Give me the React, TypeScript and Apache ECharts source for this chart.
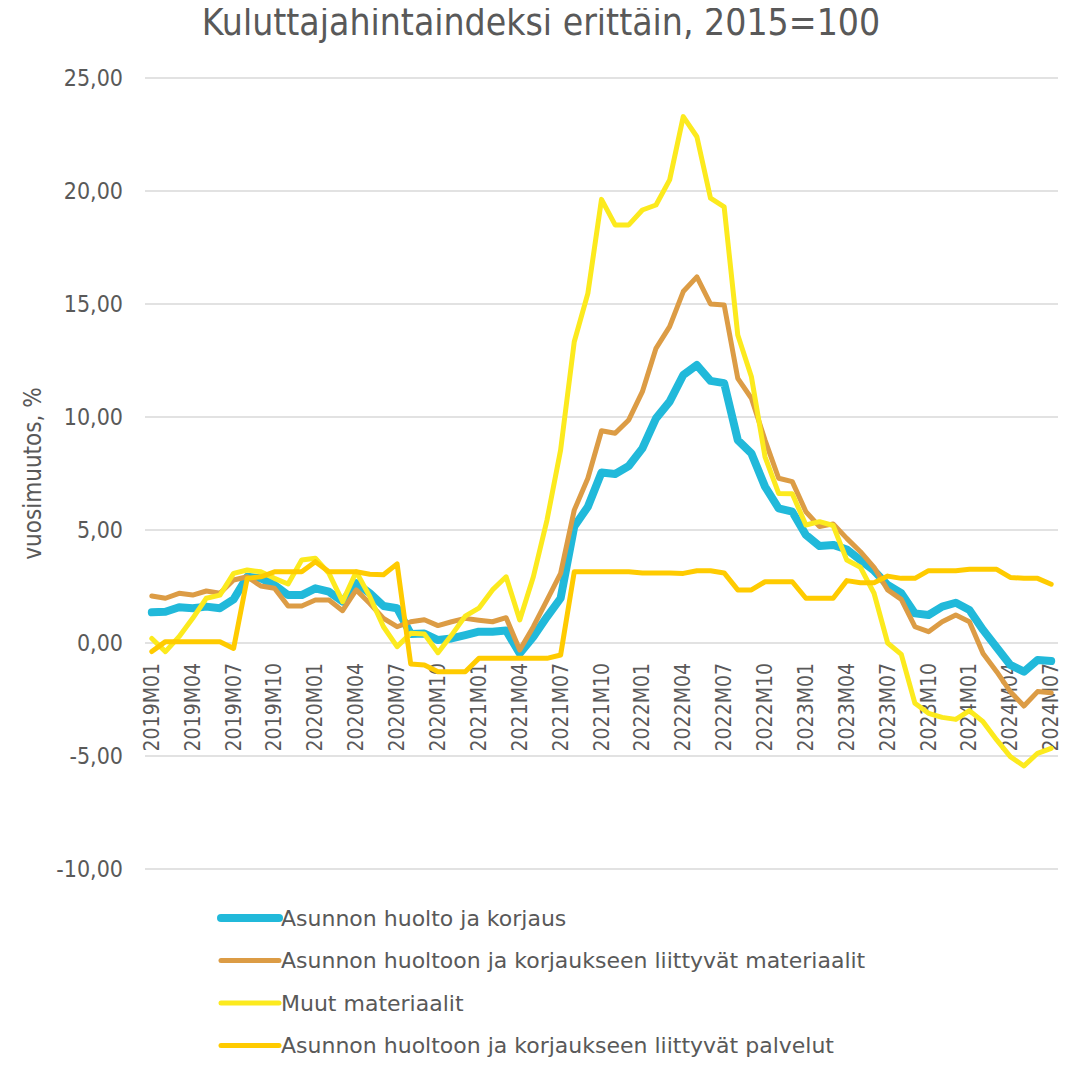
import React, { useEffect, useRef } from "react";
import * as echarts from "echarts";

const months: string[] = [];
for (let y = 2019; y <= 2024; y++) {
  for (let m = 1; m <= 12; m++) {
    if (y === 2024 && m > 7) break;
    months.push(`${y}M${m < 10 ? "0" + m : m}`);
  }
}

const seriesNames = [
  "Asunnon huolto ja korjaus",
  "Asunnon huoltoon ja korjaukseen liittyvät materiaalit",
  "Muut materiaalit",
  "Asunnon huoltoon ja korjaukseen liittyvät palvelut",
];

const huoltoJaKorjaus = [
  1.36, 1.38, 1.58, 1.54, 1.61, 1.54, 1.93, 2.93, 2.86, 2.57,
  2.12, 2.12, 2.42, 2.27, 1.83, 2.64, 2.2, 1.64, 1.54, 0.4,
  0.42, 0.13, 0.2, 0.35, 0.5, 0.5, 0.55, -0.46, 0.28, 1.16,
  1.98, 5.15, 6.03, 7.54, 7.48, 7.83, 8.61, 9.94, 10.68, 11.86,
  12.3, 11.6, 11.5, 8.98, 8.39, 6.92, 5.96, 5.81, 4.78, 4.29,
  4.34, 4.14, 3.67, 3.2, 2.57, 2.2, 1.31, 1.24, 1.61, 1.78,
  1.46, 0.58, -0.2, -0.97, -1.27, -0.75, -0.8,
];

const materiaalit = [
  2.08, 1.98, 2.2, 2.12, 2.3, 2.2, 2.79, 2.93, 2.52, 2.42,
  1.64, 1.64, 1.9, 1.9, 1.43, 2.35, 1.75, 1.09, 0.72, 0.94,
  1.03, 0.77, 0.94, 1.09, 1.01, 0.94, 1.12, -0.31, 0.72, 1.9,
  3.08, 5.88, 7.29, 9.39, 9.28, 9.87, 11.12, 13.04, 14.0, 15.55,
  16.2, 15.0, 14.96, 11.71, 10.83, 8.98, 7.29, 7.14, 5.81, 5.15,
  5.27, 4.63, 4.04, 3.35, 2.35, 1.93, 0.72, 0.5, 0.94, 1.24,
  0.94, -0.46, -1.27, -2.15, -2.79, -2.15, -2.2,
];

const muutMateriaalit = [
  0.2, -0.38, 0.28, 1.09, 1.98, 2.12, 3.08, 3.23, 3.15, 2.86,
  2.61, 3.67, 3.75, 3.08, 1.83, 3.15, 2.05, 0.72, -0.16, 0.43,
  0.4, -0.43, 0.35, 1.19, 1.54, 2.35, 2.93, 1.02, 2.93, 5.44,
  8.54, 13.33, 15.47, 19.63, 18.5, 18.5, 19.16, 19.38, 20.49, 23.29,
  22.4, 19.68, 19.3, 13.63, 11.78, 8.24, 6.62, 6.6, 5.22, 5.37,
  5.2, 3.67, 3.35, 2.2, 0.0, -0.5, -2.67, -3.11, -3.29, -3.38,
  -2.99, -3.48, -4.29, -5.03, -5.44, -4.88, -4.66,
];

const palvelut = [
  -0.38, 0.06, 0.06, 0.06, 0.06, 0.06, -0.24, 2.86, 2.93, 3.15,
  3.15, 3.15, 3.6, 3.15, 3.15, 3.15, 3.04, 3.02, 3.5, -0.93,
  -0.97, -1.27, -1.27, -1.27, -0.68, -0.68, -0.68, -0.68, -0.68, -0.68,
  -0.53, 3.15, 3.15, 3.15, 3.15, 3.15, 3.1, 3.1, 3.1, 3.08,
  3.2, 3.2, 3.1, 2.35, 2.35, 2.71, 2.71, 2.71, 1.98, 1.98,
  1.98, 2.76, 2.67, 2.67, 2.96, 2.86, 2.86, 3.2, 3.2, 3.2,
  3.26, 3.26, 3.26, 2.9, 2.86, 2.86, 2.6,
];

const seriesData = [huoltoJaKorjaus, materiaalit, muutMateriaalit, palvelut];
const colors = ["#21b9da", "#dc9c45", "#fcea1e", "#ffcb00"];
const widths = [8, 5, 5, 5];

const FONT = "'DejaVu Sans Condensed', 'DejaVu Sans', sans-serif";
const LEGEND_FONT = "'DejaVu Sans', sans-serif";
const TEXT = "#595959";

export default function App() {
  const ref = useRef<HTMLDivElement>(null);
  useEffect(() => {
    if (!ref.current) return;
    const chart = echarts.init(ref.current, undefined, { renderer: "svg" });
    chart.setOption({
      animation: false,
      textStyle: { fontFamily: FONT },
      title: {
        text: "Kuluttajahintaindeksi erittäin, 2015=100",
        left: "center",
        top: 0,
        padding: [4, 14, 4, 0],
        textStyle: { fontFamily: FONT, fontSize: 37, fontWeight: "normal", color: TEXT },
      },
      grid: { left: 145, right: 24, top: 78, bottom: 196, containLabel: false },
      legend: {
        orient: "vertical",
        left: 217,
        top: 907,
        padding: 0,
        itemWidth: 58,
        itemHeight: 14,
        itemGap: 20.5,
        itemStyle: { opacity: 0 },
        lineStyle: { width: 5, cap: "round" },
        data: seriesNames.map((name, i) => ({
          name,
          lineStyle: { width: widths[i], cap: "round", color: colors[i] },
        })),
        textStyle: {
          fontFamily: LEGEND_FONT,
          fontSize: 22,
          color: TEXT,
          padding: [0, 0, 0, -3],
        },
      },
      xAxis: {
        type: "category",
        data: months,
        boundaryGap: true,
        position: "bottom",
        offset: -226,
        axisLine: { show: false, onZero: false },
        axisTick: { show: false },
        axisLabel: {
          interval: 2,
          rotate: 90,
          margin: 20,
          fontFamily: FONT,
          fontSize: 21,
          color: TEXT,
        },
        splitLine: { show: false },
      },
      yAxis: {
        type: "value",
        min: -10,
        max: 25,
        interval: 5,
        name: "vuosimuutos, %",
        nameLocation: "middle",
        nameGap: 98,
        nameTextStyle: { fontFamily: FONT, fontSize: 24, color: TEXT },
        axisLine: { show: false },
        axisTick: { show: false },
        axisLabel: {
          margin: 22,
          fontFamily: FONT,
          fontSize: 23,
          color: TEXT,
          formatter: (v: number) => v.toFixed(2).replace(".", ","),
        },
        splitLine: { lineStyle: { color: "#d9d9d9", width: 1.5 } },
      },
      series: seriesNames.map((name, i) => ({
        name,
        type: "line",
        data: seriesData[i],
        symbol: "none",
        color: colors[i],
        lineStyle: { color: colors[i], width: widths[i], cap: "round", join: "round" },
      })),
    });
    return () => chart.dispose();
  }, []);
  return <div ref={ref} style={{ width: 1082, height: 1065, margin: -8 }} />;
}
